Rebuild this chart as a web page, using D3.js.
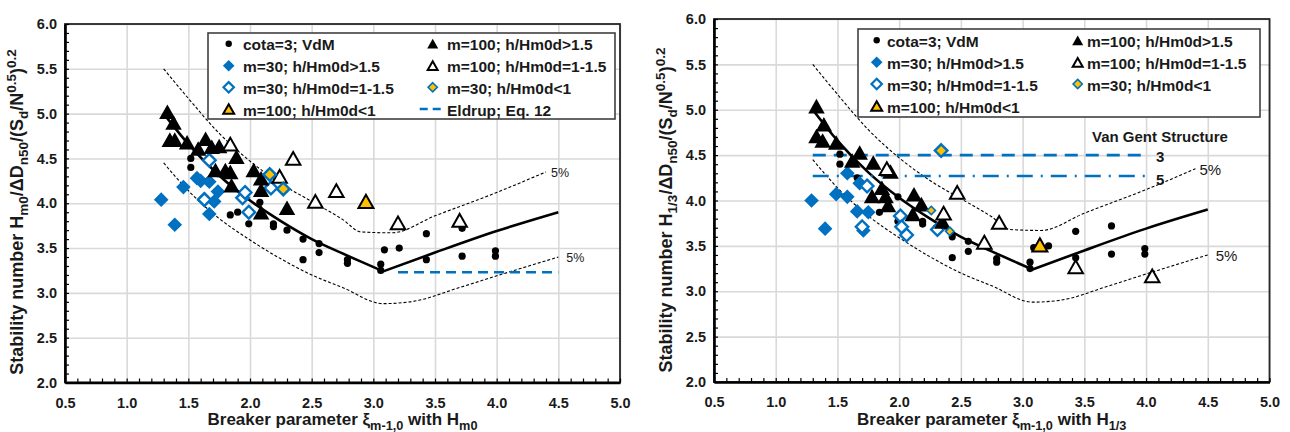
<!DOCTYPE html>
<html><head><meta charset="utf-8">
<script src="https://cdn.jsdelivr.net/npm/d3@7/dist/d3.min.js"></script>
<style>
body{margin:0;background:#fff}
svg{display:block}
text{font-family:"Liberation Sans",Arial,sans-serif}
</style>
</head><body>
<svg id="chart" width="1290" height="432"></svg>
<script>
// ---------- tick labels ----------
const xTickValues = [0.5,1.0,1.5,2.0,2.5,3.0,3.5,4.0,4.5,5.0];
const xTickLabels = ["0.5","1.0","1.5","2.0","2.5","3.0","3.5","4.0","4.5","5.0"];
const yTickValues = [2.0,2.5,3.0,3.5,4.0,4.5,5.0,5.5,6.0];
const yTickLabels = ["2.0","2.5","3.0","3.5","4.0","4.5","5.0","5.5","6.0"];

// ---------- legend ----------
const legendNames = ["cota=3; VdM","m=30; h/Hm0d>1.5","m=30; h/Hm0d=1-1.5","m=100; h/Hm0d<1",
                     "m=100; h/Hm0d>1.5","m=100; h/Hm0d=1-1.5","m=30; h/Hm0d<1","Eldrup; Eq. 12"];

// ---------- reference curves ----------
const vdmLine = [[1.3,5.00],[1.5,4.66],[1.75,4.31],[2.0,4.03],[2.25,3.80],[2.5,3.60],[2.75,3.44],[3.08,3.24],[3.5,3.45],[4.0,3.69],[4.5,3.90]];
const upper5 = [[1.3,5.50],[1.5,5.17],[1.75,4.78],[2.0,4.47],[2.25,4.22],[2.5,4.02],[2.75,3.82],[2.9,3.68],[3.15,3.67],[3.5,3.86],[4.0,4.12],[4.4,4.35]];
const lower5 = [[1.3,4.45],[1.5,4.14],[1.75,3.83],[2.0,3.59],[2.25,3.38],[2.5,3.20],[2.75,3.06],[3.08,2.88],[3.3,2.90],[3.7,3.06],[4.0,3.19],[4.5,3.40]];
const eldrupLine = [[3.2,3.23],[4.5,3.23]];
const vanGent3 = [[1.3,4.50],[4.0,4.50]];
const vanGent5 = [[1.3,4.27],[4.0,4.27]];

// ---------- left panel data (Hm0) ----------
const cotaL = [[1.52,4.50],[1.52,4.40],[1.66,4.25],[1.84,3.87],[1.90,3.90],[1.99,3.77],[2.08,4.01],[2.19,3.77],[2.19,3.74],[2.30,3.70],[2.43,3.60],[2.43,3.37],[2.56,3.55],[2.56,3.45],[2.79,3.37],[2.79,3.33],[3.06,3.32],[3.06,3.25],[3.09,3.48],[3.21,3.50],[3.43,3.66],[3.43,3.37],[3.72,3.72],[3.72,3.41],[3.99,3.47],[3.99,3.41]];
const m30HiL = [[1.28,4.04],[1.39,3.76],[1.46,4.18],[1.57,4.28],[1.60,4.25],[1.67,4.24],[1.63,4.05],[1.74,4.13],[1.71,4.02],[1.67,3.88]];
const m30MidL = [[1.67,4.48],[1.63,4.04],[1.94,4.06],[1.96,4.12],[1.99,3.90],[2.17,4.17]];
const m100LoL = [[2.94,4.02]];
const m100HiL = [[1.33,5.02],[1.38,4.90],[1.35,4.71],[1.39,4.71],[1.49,4.68],[1.58,4.61],[1.64,4.72],[1.69,4.63],[1.75,4.64],[1.89,4.52],[1.72,4.37],[1.80,4.37],[1.84,4.35],[1.85,4.20],[2.03,4.37],[2.09,4.28],[2.09,4.15],[2.09,3.90],[2.30,3.95]];
const m100MidL = [[1.84,4.66],[2.24,4.30],[2.35,4.50],[2.53,4.02],[2.70,4.14],[3.20,3.78],[3.70,3.81]];
const m30LoL = [[2.16,4.32],[2.27,4.16]];

// ---------- right panel data (H1/3) ----------
const cotaR = [[1.52,4.51],[1.52,4.40],[1.66,4.25],[1.84,3.87],[1.99,4.04],[1.99,3.77],[2.19,3.77],[2.19,3.74],[2.30,3.70],[2.43,3.60],[2.43,3.37],[2.56,3.55],[2.56,3.44],[2.79,3.36],[2.79,3.32],[3.06,3.32],[3.06,3.25],[3.09,3.48],[3.21,3.50],[3.43,3.66],[3.43,3.37],[3.72,3.72],[3.72,3.41],[3.99,3.47],[3.99,3.41]];
const m30HiR = [[1.29,4.00],[1.40,3.69],[1.49,4.07],[1.58,4.04],[1.58,4.30],[1.66,3.88],[1.75,3.87],[1.71,3.67],[1.68,4.19]];
const m30MidR = [[1.70,3.71],[1.74,4.16],[2.01,3.83],[2.02,3.71],[2.06,3.62],[2.31,3.68]];
const m100LoR = [[3.14,3.51]];
const m100HiR = [[1.33,5.04],[1.39,4.84],[1.33,4.71],[1.38,4.66],[1.49,4.64],[1.62,4.44],[1.68,4.53],[1.79,4.42],[1.93,4.32],[1.78,4.05],[1.86,4.14],[1.89,4.05],[1.91,3.95],[2.12,4.07],[2.18,3.96],[2.11,3.85],[2.35,3.77]];
const m100MidR = [[1.90,4.35],[2.36,3.86],[2.47,4.09],[2.69,3.54],[2.81,3.76],[3.43,3.27],[4.05,3.17]];
const m30LoR = [[2.26,3.89],[2.41,3.66]];
const m30LoRLarge = [[2.34,4.55]];

// ---------- styling ----------
const BLUE = "#0070C0", GOLD = "#FFC000";
const svg = d3.select("#chart");

function triPath(w){ const h = w*0.88; return `M0,${-h/2}L${w/2},${h/2}L${-w/2},${h/2}Z`; }
function diaPath(r){ return `M0,${-r}L${r},0L0,${r}L${-r},0Z`; }

const styles = {
  cota:   {type:"circle", r:3.6, fill:"#000", stroke:"none", sw:0, lr:3.2},
  m30Hi:  {type:"dia", r:7.3, fill:BLUE, stroke:"none", sw:0, lr:5.8},
  m30Mid: {type:"dia", r:6.3, fill:"#fff", stroke:BLUE, sw:2.4, lr:5.2},
  m100Lo: {type:"tri", r:15, fill:GOLD, stroke:"#000", sw:2, lr:11},
  m100Hi: {type:"tri", r:16.5, fill:"#000", stroke:"none", sw:0, lr:11},
  m100Mid:{type:"tri", r:14.5, fill:"#fff", stroke:"#000", sw:2, lr:10},
  m30Lo:  {type:"dia", r:6.3, fill:GOLD, stroke:BLUE, sw:2.4, lr:4.6},
  m30LoS: {type:"dia", r:4.2, fill:GOLD, stroke:BLUE, sw:1.6, lr:4.6}
};
const legendKeys = ["cota","m30Hi","m30Mid","m100Lo","m100Hi","m100Mid","m30Lo","eldrup"];

function markerPath(st, size){
  if (st.type==="dia") return diaPath(size);
  if (st.type==="tri") return triPath(size);
  return null;
}

function drawMarkers(g, data, st, x, y, size){
  const s = size || st.r;
  if (st.type==="circle") {
    g.append("g").selectAll("circle").data(data).join("circle")
      .attr("cx", d=>x(d[0])).attr("cy", d=>y(d[1])).attr("r", s).attr("fill", st.fill);
  } else {
    g.append("g").selectAll("path").data(data).join("path")
      .attr("transform", d=>`translate(${x(d[0])},${y(d[1])})`)
      .attr("d", markerPath(st, s))
      .attr("fill", st.fill).attr("stroke", st.stroke).attr("stroke-width", st.sw)
      .attr("stroke-linejoin","miter");
  }
}

function richText(t, parts, size){
  let shift = 0;
  parts.forEach(([s,k])=>{
    const target = k==="sub" ? 5 : (k==="sup" ? -7.5 : 0);
    t.append("tspan").attr("dy", target - shift)
      .attr("font-size", k==="n" ? size : size*0.75).text(s);
    shift = target;
  });
}

function drawPanel(P){
  const g = svg.append("g");
  const x = d3.scaleLinear().domain([0.5,5]).range([P.x0,P.x1]);
  const y = d3.scaleLinear().domain([2,6]).range([P.y1,P.y0]);
  const W = P.x1-P.x0, H = P.y1-P.y0;

  // gridlines
  g.append("g").attr("transform",`translate(0,${P.y1})`)
    .call(d3.axisBottom(x).tickValues(xTickValues).tickSize(-H).tickFormat(""))
    .call(a=>{a.select(".domain").remove(); a.selectAll("line").attr("stroke","#d9d9d9").attr("stroke-width",1.6);});
  g.append("g").attr("transform",`translate(${P.x0},0)`)
    .call(d3.axisLeft(y).tickValues(yTickValues).tickSize(-W).tickFormat(""))
    .call(a=>{a.select(".domain").remove(); a.selectAll("line").attr("stroke","#d9d9d9").attr("stroke-width",1.6);});

  // frame
  g.append("rect").attr("x",P.x0).attr("y",P.y0).attr("width",W).attr("height",H)
    .attr("fill","none").attr("stroke","#262626").attr("stroke-width",1.8);

  // minor ticks (inside)
  const minorX = d3.range(0, 46).map(i => 0.5 + i*0.1);
  const minorY = d3.range(0, 41).map(i => 2 + i*0.1);
  g.append("g").attr("transform",`translate(0,${P.y1})`)
    .call(d3.axisBottom(x).tickValues(minorX).tickSize(-4).tickFormat(""))
    .call(a=>{a.select(".domain").remove(); a.selectAll("line").attr("stroke","#000").attr("stroke-width",1.2);});
  g.append("g").attr("transform",`translate(${P.x0},0)`)
    .call(d3.axisLeft(y).tickValues(minorY).tickSize(-4).tickFormat(""))
    .call(a=>{a.select(".domain").remove(); a.selectAll("line").attr("stroke","#000").attr("stroke-width",1.2);});

  // main axes with labels
  g.append("g").attr("transform",`translate(0,${P.y1})`)
    .call(d3.axisBottom(x).tickValues(xTickValues).tickSize(0).tickPadding(15).tickFormat((d,i)=>xTickLabels[i]))
    .call(a=>{a.select(".domain").attr("stroke","#000").attr("stroke-width",2.6);
      a.selectAll("text").attr("font-size",14.5).attr("font-weight","bold").attr("fill","#1a1a1a")
       .attr("font-family","Liberation Sans, Arial, sans-serif");});
  g.append("g").attr("transform",`translate(${P.x0},0)`)
    .call(d3.axisLeft(y).tickValues(yTickValues).tickSize(0).tickPadding(8).tickFormat((d,i)=>yTickLabels[i]))
    .call(a=>{a.select(".domain").attr("stroke","#000").attr("stroke-width",2.6);
      a.selectAll("text").attr("font-size",14.5).attr("font-weight","bold").attr("fill","#1a1a1a")
       .attr("font-family","Liberation Sans, Arial, sans-serif");});

  // lines
  const line = d3.line().x(d=>x(d[0])).y(d=>y(d[1]));
  const smooth = d3.line().x(d=>x(d[0])).y(d=>y(d[1])).curve(d3.curveMonotoneX);
  g.append("path").datum(upper5).attr("d",smooth).attr("fill","none").attr("stroke","#000").attr("stroke-width",1.1).attr("stroke-dasharray","3,2");
  g.append("path").datum(lower5).attr("d",smooth).attr("fill","none").attr("stroke","#000").attr("stroke-width",1.1).attr("stroke-dasharray","3,2");
  g.append("path").datum(vdmLine.slice(0,8)).attr("d",smooth).attr("fill","none").attr("stroke","#000").attr("stroke-width",2.6);
  g.append("path").datum(vdmLine.slice(7)).attr("d",smooth).attr("fill","none").attr("stroke","#000").attr("stroke-width",2.6);

  P.extraLines(g, x, y, line);

  // 5% labels
  g.append("text").attr("x", x(upper5[upper5.length-1][0]) + P.pctDx1).attr("y", y(upper5[upper5.length-1][1]) + 1)
    .attr("dominant-baseline","central").attr("font-size",P.pctSize).attr("fill","#1a1a1a").text("5%");
  g.append("text").attr("x", x(lower5[lower5.length-1][0]) + P.pctDx2).attr("y", y(lower5[lower5.length-1][1]) + 1)
    .attr("dominant-baseline","central").attr("font-size",P.pctSize).attr("fill","#1a1a1a").text("5%");

  // markers
  const D = P.data;
  drawMarkers(g, D.cota, styles.cota, x, y);
  drawMarkers(g, D.m30Hi, styles.m30Hi, x, y);
  drawMarkers(g, D.m30Mid, styles.m30Mid, x, y);
  drawMarkers(g, D.m100Lo, styles.m100Lo, x, y);
  drawMarkers(g, D.m100Hi, styles.m100Hi, x, y);
  drawMarkers(g, D.m100Mid, styles.m100Mid, x, y);
  if (D.m30LoLarge) drawMarkers(g, D.m30LoLarge, styles.m30Lo, x, y);
  drawMarkers(g, D.m30Lo, P.loSmall ? styles.m30LoS : styles.m30Lo, x, y);

  // legend
  const L = P.legend;
  g.append("rect").attr("x",L.x0).attr("y",L.y0).attr("width",L.x1-L.x0).attr("height",L.y1-L.y0)
    .attr("fill","#fff").attr("stroke","#404040").attr("stroke-width",1.6);
  const lg = g.append("g");
  const items = legendKeys.map((k,i)=>({k, name: legendNames[i], col: i<4?0:1, row: i%4}))
    .filter(d => P.legendKeys.includes(d.k));
  items.forEach(it=>{
    const cy = L.rows[it.row];
    const mx = L.mx[it.col];
    if (it.k==="eldrup") {
      lg.append("line").attr("x1",mx-13).attr("x2",mx+12).attr("y1",cy).attr("y2",cy)
        .attr("stroke",BLUE).attr("stroke-width",2.6).attr("stroke-dasharray","8,5");
    } else {
      const st = styles[it.k];
      if (st.type==="circle") lg.append("circle").attr("cx",mx).attr("cy",cy).attr("r",st.lr).attr("fill",st.fill);
      else {
        const sw = it.k==="m30Lo" ? 1.6 : (it.k==="m30Mid" ? 2.2 : st.sw);
        lg.append("path").attr("transform",`translate(${mx},${cy})`).attr("d",markerPath(st, st.lr))
          .attr("fill",st.fill).attr("stroke",st.stroke).attr("stroke-width",sw);
      }
    }
    lg.append("text").attr("x",L.tx[it.col]).attr("y",cy+1).attr("dominant-baseline","central")
      .attr("font-size",15.5).attr("font-weight","bold").attr("fill","#1a1a1a").text(it.name);
  });

  // axis titles
  const xt = g.append("text").attr("x",(P.x0+P.x1)/2).attr("y",P.xTitleY).attr("text-anchor","middle")
    .attr("font-weight","bold").attr("fill","#1a1a1a");
  richText(xt, P.xTitle, 17);
  const yt = g.append("text").attr("transform",`translate(${P.yTitleX},${P.yTitleCy}) rotate(-90)`)
    .attr("text-anchor","middle").attr("font-weight","bold").attr("fill","#1a1a1a");
  richText(yt, P.yTitle, 18);

  if (P.extraText) P.extraText(g, x, y);
}

// ---------- left panel ----------
drawPanel({
  x0:65, x1:620, y0:24, y1:382.5,
  data:{cota:cotaL, m30Hi:m30HiL, m30Mid:m30MidL, m100Lo:m100LoL, m100Hi:m100HiL, m100Mid:m100MidL, m30Lo:m30LoL},
  loSmall:false,
  pctSize:12.5, pctDx1:5, pctDx2:8,
  extraLines:(g,x,y,line)=>{
    g.append("path").datum(eldrupLine).attr("d",line).attr("fill","none").attr("stroke",BLUE)
      .attr("stroke-width",2.6).attr("stroke-dasharray","10,6");
  },
  legend:{x0:208, x1:615, y0:33, y1:119, rows:[43.7,65.7,87.3,109], mx:[228.7,432.7], tx:[243,447]},
  legendKeys:["cota","m30Hi","m30Mid","m100Lo","m100Hi","m100Mid","m30Lo","eldrup"],
  xTitleY:425,
  xTitle:[["Breaker parameter ξ","n"],["m-1,0","sub"],[" with H","n"],["m0","sub"]],
  yTitleX:23, yTitleCy:212,
  yTitle:[["Stability number H","n"],["m0","sub"],["/ΔD","n"],["n50","sub"],["/(S","n"],["d","sub"],["/N","n"],["0.5","sup"],[")","n"],["0.2","sup"]]
});

// ---------- right panel ----------
drawPanel({
  x0:714, x1:1269.5, y0:19, y1:382,
  data:{cota:cotaR, m30Hi:m30HiR, m30Mid:m30MidR, m100Lo:m100LoR, m100Hi:m100HiR, m100Mid:m100MidR, m30Lo:m30LoR, m30LoLarge:m30LoRLarge},
  loSmall:true,
  pctSize:15, pctDx1:4, pctDx2:8,
  extraLines:(g,x,y,line)=>{
    g.append("path").datum(vanGent3).attr("d",line).attr("fill","none").attr("stroke",BLUE)
      .attr("stroke-width",2.6).attr("stroke-dasharray","13,8");
    g.append("path").datum(vanGent5).attr("d",line).attr("fill","none").attr("stroke",BLUE)
      .attr("stroke-width",2.6).attr("stroke-dasharray","16,8,2,8");
  },
  legend:{x0:858, x1:1260, y0:29, y1:117, rows:[40.3,62.3,84,106], mx:[876.7,1077.7], tx:[887,1087]},
  legendKeys:["cota","m30Hi","m30Mid","m100Lo","m100Hi","m100Mid","m30Lo"],
  xTitleY:425,
  xTitle:[["Breaker parameter ξ","n"],["m-1,0","sub"],[" with H","n"],["1/3","sub"]],
  yTitleX:672, yTitleCy:210,
  yTitle:[["Stability number H","n"],["1/3","sub"],["/ΔD","n"],["n50","sub"],["/(S","n"],["d","sub"],["/N","n"],["0.5","sup"],[")","n"],["0.2","sup"]],
  extraText:(g,x,y)=>{
    g.append("text").attr("x",1092).attr("y",136).attr("dominant-baseline","central")
      .attr("font-size",15).attr("font-weight","bold").attr("fill","#1a1a1a").text("Van Gent Structure");
    g.append("text").attr("x",x(vanGent3[1][0])+10).attr("y",y(vanGent3[1][1])+1).attr("dominant-baseline","central")
      .attr("font-size",15).attr("font-weight","bold").attr("fill","#1a1a1a").text("3");
    g.append("text").attr("x",x(vanGent5[1][0])+10).attr("y",y(vanGent5[1][1])+4).attr("dominant-baseline","central")
      .attr("font-size",15).attr("font-weight","bold").attr("fill","#1a1a1a").text("5");
  }
});
</script>
</body></html>
